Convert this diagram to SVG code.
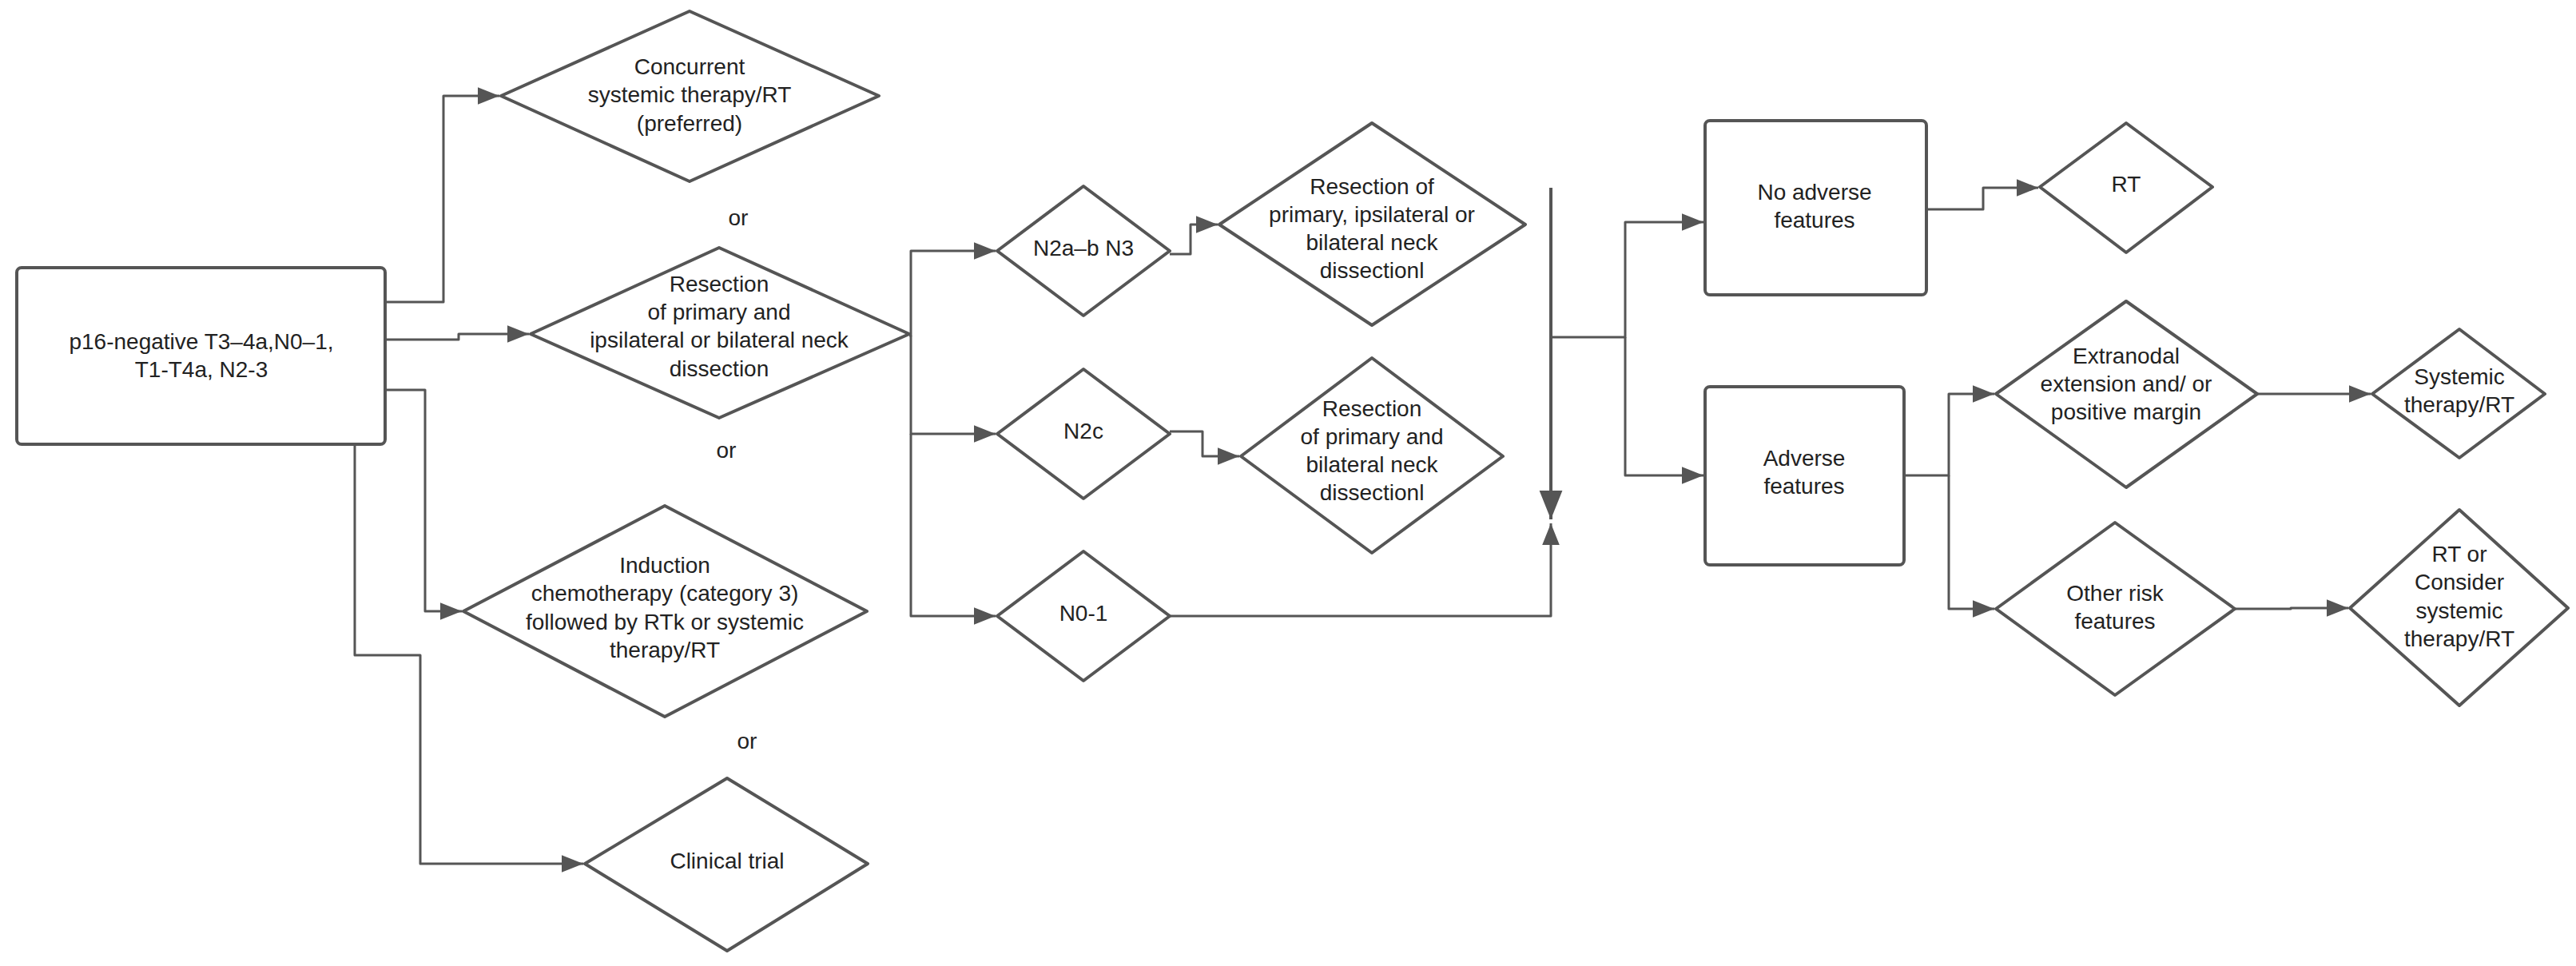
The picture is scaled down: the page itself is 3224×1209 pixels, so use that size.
<svg xmlns="http://www.w3.org/2000/svg" width="3224" height="1209" viewBox="0 0 3224 1209">
<style>
.n{fill:#fff;stroke:#555;stroke-width:4;stroke-linejoin:round}
.c{fill:none;stroke:#555;stroke-width:3;stroke-linejoin:round}
text{font-family:"Liberation Sans",Arial,sans-serif;font-size:28px;fill:#222;text-anchor:middle}
</style>
<defs><marker id="a" viewBox="0 0 10 10" refX="10" refY="5" markerWidth="8" markerHeight="8" markerUnits="userSpaceOnUse" orient="auto"><path d="M0,0L10,5L0,10z" fill="#555"/></marker></defs>
<defs><marker id="b" viewBox="0 0 10 10" refX="10" refY="5" markerWidth="9" markerHeight="9" orient="auto"><path d="M0,1L10,5L0,9z" fill="#555"/></marker></defs>
<g id="connectors" marker-end="url(#b)">
<path class="c" d="M482,378H555V120H625" marker-end="url(#b)"/>
<path class="c" d="M482,425H574V418H662" marker-end="url(#b)"/>
<path class="c" d="M482,488H532V765H578" marker-end="url(#b)"/>
<path class="c" d="M444,556V820H526V1081H730" marker-end="url(#b)"/>
<path class="c" d="M1138,420H1140V314H1246" marker-end="url(#b)"/>
<path class="c" d="M1140,420V543H1246" marker-end="url(#b)"/>
<path class="c" d="M1140,543V771H1246" marker-end="url(#b)"/>
<path class="c" d="M1464,318H1490V281H1524" marker-end="url(#b)"/>
<path class="c" d="M1464,540H1505V571H1551" marker-end="url(#b)"/>
<path class="c" d="M1464,771H1941V655" marker-end="url(#b)"/>
<path class="c" d="M1941,422H2034V278H2132" marker-end="url(#b)"/>
<path class="c" d="M2034,422V595H2132" marker-end="url(#b)"/>
<path class="c" d="M2411,262H2482V235H2551" marker-end="url(#b)"/>
<path class="c" d="M2383,595H2439V493H2496" marker-end="url(#b)"/>
<path class="c" d="M2439,595V762H2496" marker-end="url(#b)"/>
<path class="c" d="M2825,493H2967" marker-end="url(#b)"/>
<path class="c" d="M2797,762H2867V761H2939" marker-end="url(#b)"/>
<path d="M1941,235V650" stroke="#555" stroke-width="4" fill="none"/>
</g>
<g id="start"><rect class="n" x="21" y="335" width="461" height="221" rx="6"/><text x="252" y="437">p16-negative T3–4a,N0–1,</text><text x="252" y="472">T1-T4a, N2-3</text></g>
<g id="concurrent"><path class="n" d="M627,120L863,14L1100,120L863,227Z"/><text x="863" y="93">Concurrent</text><text x="863" y="128">systemic therapy/RT</text><text x="863" y="164">(preferred)</text></g>
<text x="924" y="282">or</text>
<g id="resection"><path class="n" d="M664,418L900,310L1138,418L900,523Z"/><text x="900" y="365">Resection</text><text x="900" y="400">of primary and</text><text x="900" y="435">ipsilateral or bilateral neck</text><text x="900" y="471">dissection</text></g>
<text x="909" y="573">or</text>
<g id="induction"><path class="n" d="M580,765L832,633L1085,765L832,897Z"/><text x="832" y="717">Induction</text><text x="832" y="752">chemotherapy (category 3)</text><text x="832" y="788">followed by RTk or systemic</text><text x="832" y="823">therapy/RT</text></g>
<text x="935" y="937">or</text>
<g id="trial"><path class="n" d="M732,1081L910,974L1086,1081L910,1190Z"/><text x="910" y="1087">Clinical trial</text></g>
<g id="n2ab"><path class="n" d="M1248,314L1356,233L1464,314L1356,395Z"/><text x="1356" y="320">N2a–b N3</text></g>
<g id="n2c"><path class="n" d="M1248,543L1356,462L1464,543L1356,624Z"/><text x="1356" y="549">N2c</text></g>
<g id="n01"><path class="n" d="M1248,771L1356,690L1464,771L1356,852Z"/><text x="1356" y="777">N0-1</text></g>
<g id="res1"><path class="n" d="M1526,281L1717,154L1909,281L1717,407Z"/><text x="1717" y="243">Resection of</text><text x="1717" y="278">primary, ipsilateral or</text><text x="1717" y="313">bilateral neck</text><text x="1717" y="348">dissectionl</text></g>
<g id="res2"><path class="n" d="M1553,571L1717,448L1881,571L1717,692Z"/><text x="1717" y="521">Resection</text><text x="1717" y="556">of primary and</text><text x="1717" y="591">bilateral neck</text><text x="1717" y="626">dissectionl</text></g>
<g id="noadv"><rect class="n" x="2134" y="151" width="277" height="218" rx="6"/><text x="2271" y="250">No adverse</text><text x="2271" y="285">features</text></g>
<g id="rt"><path class="n" d="M2553,234L2661,154L2769,234L2661,316Z"/><text x="2661" y="240">RT</text></g>
<g id="adv"><rect class="n" x="2134" y="484" width="249" height="223" rx="6"/><text x="2258" y="583">Adverse</text><text x="2258" y="618">features</text></g>
<g id="extra"><path class="n" d="M2498,493L2661,377L2825,493L2661,610Z"/><text x="2661" y="455">Extranodal</text><text x="2661" y="490">extension and/ or</text><text x="2661" y="525">positive margin</text></g>
<g id="sys"><path class="n" d="M2969,493L3078,412L3185,493L3078,573Z"/><text x="3078" y="481">Systemic</text><text x="3078" y="516">therapy/RT</text></g>
<g id="other"><path class="n" d="M2498,762L2647,654L2797,762L2647,870Z"/><text x="2647" y="752">Other risk</text><text x="2647" y="787">features</text></g>
<g id="rtor"><path class="n" d="M2941,761L3078,638L3214,761L3078,883Z"/><text x="3078" y="703">RT or</text><text x="3078" y="738">Consider</text><text x="3078" y="774">systemic</text><text x="3078" y="809">therapy/RT</text></g>
</svg>
